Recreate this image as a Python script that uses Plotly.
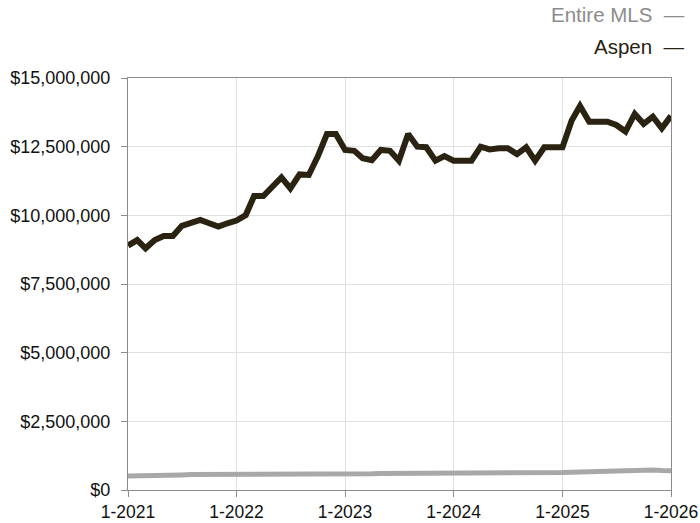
import pandas as pd
import plotly.graph_objects as go

months = pd.date_range("2021-01-01", periods=61, freq="MS")

aspen = [8.90, 9.10, 8.80, 9.10, 9.25, 9.25, 9.62, 9.73, 9.83, 9.71, 9.59, 9.71,
         9.81, 10.01, 10.70, 10.70, 11.07, 11.38, 10.98, 11.49, 11.47, 12.14, 12.96, 12.96,
         12.38, 12.35, 12.08, 12.01, 12.38, 12.35, 11.99, 12.96, 12.50, 12.48, 11.99, 12.16,
         11.99, 11.99, 11.99, 12.50, 12.40, 12.44, 12.44, 12.23, 12.48, 11.99, 12.48, 12.48,
         12.48, 13.45, 13.98, 13.41, 13.41, 13.41, 13.29, 13.05, 13.69, 13.33, 13.59, 13.17,
         13.62]
aspen = [v * 1e6 for v in aspen]

mls = [0.51, 0.51, 0.51, 0.52, 0.53, 0.54, 0.55, 0.56, 0.56, 0.57, 0.56, 0.56,
       0.55, 0.55, 0.56, 0.57, 0.57, 0.57, 0.57, 0.57, 0.57, 0.57, 0.58, 0.58,
       0.58, 0.58, 0.59, 0.59, 0.60, 0.60, 0.61, 0.61, 0.61, 0.61, 0.61, 0.61,
       0.62, 0.62, 0.63, 0.63, 0.62, 0.60, 0.64, 0.64, 0.64, 0.64, 0.64, 0.64,
       0.64, 0.65, 0.66, 0.68, 0.68, 0.69, 0.70, 0.71, 0.72, 0.73, 0.73, 0.71,
       0.70]
mls = [v * 1e6 for v in mls]

y_ticks = [0, 2.5e6, 5e6, 7.5e6, 10e6, 12.5e6, 15e6]
y_labels = ["$0", "$2,500,000", "$5,000,000", "$7,500,000", "$10,000,000", "$12,500,000", "$15,000,000"]
x_ticks = ["2021-01-01", "2022-01-01", "2023-01-01", "2024-01-01", "2025-01-01", "2026-01-01"]
x_labels = ["1-2021", "1-2022", "1-2023", "1-2024", "1-2025", "1-2026"]

ASPEN_C = "#2a2312"
MLS_C = "#a8a8a8"
FONT = "Liberation Sans, Arial, Helvetica, sans-serif"

fig = go.Figure()
fig.add_trace(go.Scatter(x=months, y=mls, mode="lines", name="Entire MLS",
                         line=dict(color=MLS_C, width=5)))
fig.add_trace(go.Scatter(x=months, y=aspen, mode="lines", name="Aspen",
                         line=dict(color=ASPEN_C, width=6)))

fig.update_layout(
    width=700, height=523,
    margin=dict(l=128, r=29, t=78, b=33, autoexpand=False),
    paper_bgcolor="white", plot_bgcolor="white",
    showlegend=False,
    font=dict(family=FONT, size=18, color="#111111"),
)
fig.update_xaxes(
    range=["2021-01-01", "2026-01-01"],
    tickvals=x_ticks, ticktext=x_labels,
    showgrid=True, gridcolor="#e0e0e0", gridwidth=1,
    showline=True, linecolor="#8c8c8c", linewidth=1, mirror=True,
    ticks="outside", ticklen=6, tickcolor="#8c8c8c",
    zeroline=False, tickfont=dict(size=17.5), automargin=False,
)
fig.update_yaxes(
    range=[0, 15e6],
    tickvals=y_ticks, ticktext=y_labels,
    showgrid=True, gridcolor="#e0e0e0", gridwidth=1,
    showline=True, linecolor="#8c8c8c", linewidth=1, mirror=True,
    ticks="outside", ticklen=6, tickcolor="#8c8c8c",
    zeroline=False, tickfont=dict(size=18), automargin=False,
    ticklabelstandoff=7,
)

NB = "\u00a0\u00a0"
fig.add_annotation(text="Entire MLS" + NB + "—", xref="paper", yref="paper",
                   x=(687 - 128) / 543, y=(490 - 15) / 412, xanchor="right", yanchor="middle",
                   showarrow=False, font=dict(size=20.5, color="#8c8c8c"))
fig.add_annotation(text="Aspen" + NB + "—", xref="paper", yref="paper",
                   x=(687 - 128) / 543, y=(490 - 46) / 412, xanchor="right", yanchor="middle",
                   showarrow=False, font=dict(size=20.5, color=ASPEN_C))

fig.write_html("out.html", config={"displayModeBar": False},
               post_script="document.body.style.margin='0';")
